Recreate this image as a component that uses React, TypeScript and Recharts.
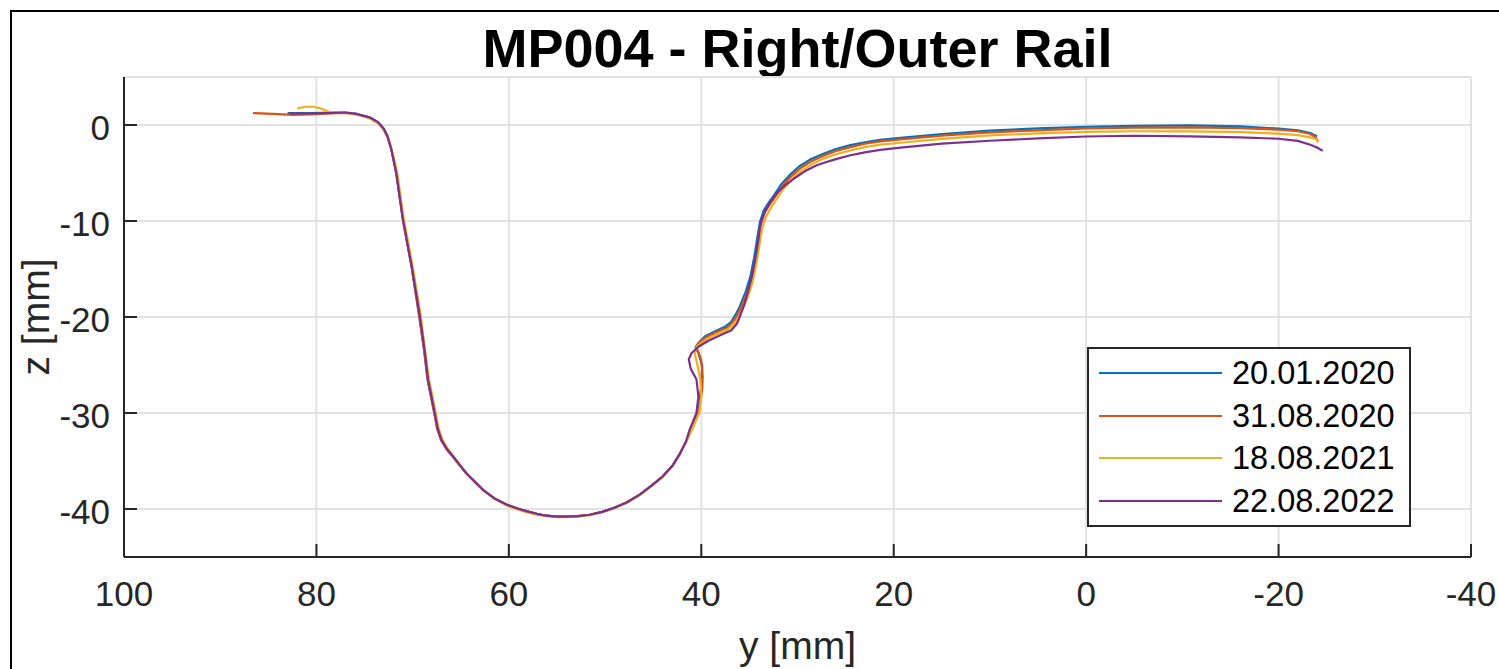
import React from 'react';
import { LineChart, Line, XAxis, YAxis, CartesianGrid, Legend, Label } from 'recharts';

// profile measurements, [y (mm), z (mm)]
const yTicks = [100, 80, 60, 40, 20, 0, -20, -40];
const zTicks = [0, -10, -20, -30, -40];
const dates = ['20.01.2020', '31.08.2020', '18.08.2021', '22.08.2022'];
const colors = ['#0072BD', '#D95319', '#EDB120', '#7E2F8E'];

const profile2020a: [number, number][] = [
  [83.0, 1.25], [80.5, 1.25], [78.5, 1.3], [77.0, 1.3], [75.8, 1.15], [74.5, 0.8], [73.6, 0.3],
  [73.0, -0.4], [72.6, -1.2], [72.2, -2.6], [71.7, -5.0], [71.0, -9.9], [70.1, -14.8], [69.3, -20.0],
  [68.8, -23.5], [68.45, -26.5], [67.75, -30.0], [67.45, -31.6], [67.05, -32.8], [66.45, -33.8],
  [65.85, -34.5], [65.15, -35.4], [64.4, -36.3], [63.5, -37.2], [62.7, -38.0], [61.5, -38.9],
  [60.2, -39.55], [59.1, -39.95], [58.1, -40.25], [57.1, -40.5], [56.1, -40.7], [55.0, -40.8],
  [54.0, -40.8], [52.8, -40.75], [51.6, -40.6], [50.3, -40.3], [49.1, -39.9], [47.7, -39.3],
  [46.4, -38.5], [45.2, -37.6], [44.0, -36.6], [43.0, -35.5], [42.2, -34.2], [41.5, -32.8],
  [41.0, -31.7], [40.3, -29.5], [40.0, -27.2], [39.9, -25.1], [40.3, -23.75], [40.6, -23.2],
  [40.3, -22.7], [39.6, -22.0], [38.6, -21.5], [37.5, -21.0], [36.9, -20.5], [36.4, -19.7],
  [36.0, -18.9], [35.4, -17.4], [34.9, -15.8], [34.5, -13.8], [34.2, -11.9], [33.9, -10.1],
  [33.5, -8.9], [33.0, -8.1], [32.5, -7.4], [31.7, -6.2], [30.8, -5.2], [29.8, -4.3], [28.7, -3.6],
  [27.3, -3.0], [26.0, -2.5], [24.5, -2.1], [23.0, -1.8], [21.4, -1.55], [19.3, -1.35], [15, -0.95],
  [10, -0.59], [5, -0.35], [0, -0.2], [-5, -0.1], [-10.8, -0.03], [-16, -0.15], [-20, -0.38],
  [-22, -0.55], [-23.3, -0.84], [-24.0, -1.2],
];

const profile2020b: [number, number][] = [
  [86.6, 1.25], [84.5, 1.15], [82.5, 1.05], [80.5, 1.1], [78.5, 1.2], [77.0, 1.25], [75.8, 1.1],
  [74.5, 0.75], [73.6, 0.25], [73.0, -0.5], [72.5, -1.5], [72.1, -3.0], [71.7, -5.0], [71.0, -9.9],
  [70.1, -14.8], [69.3, -20.0], [68.8, -23.5], [68.45, -26.5], [67.75, -30.0], [67.45, -31.6],
  [67.05, -32.8], [66.45, -33.8], [65.85, -34.5], [65.15, -35.4], [64.4, -36.3], [63.5, -37.2],
  [62.7, -38.0], [61.5, -38.9], [60.2, -39.55], [59.1, -39.95], [58.1, -40.25], [57.1, -40.5],
  [56.1, -40.7], [55.0, -40.8], [54.0, -40.8], [52.8, -40.75], [51.6, -40.6], [50.3, -40.3],
  [49.1, -39.9], [47.7, -39.3], [46.4, -38.5], [45.2, -37.6], [44.0, -36.6], [43.0, -35.5],
  [42.2, -34.2], [41.5, -32.8], [41.0, -31.7], [40.2, -29.5], [39.9, -27.5], [39.85, -26.2],
  [40.0, -24.5], [40.4, -23.4], [40.5, -23.0], [40.0, -22.5], [39.3, -22.0], [38.3, -21.5],
  [37.3, -21.1], [36.8, -20.6], [36.3, -19.9], [35.9, -19.1], [35.3, -17.6], [34.8, -16.1],
  [34.4, -14.1], [34.1, -12.2], [33.8, -10.3], [33.4, -9.1], [32.9, -8.3], [32.4, -7.6],
  [31.6, -6.4], [30.7, -5.4], [29.7, -4.5], [28.6, -3.8], [27.3, -3.2], [26.0, -2.7], [24.5, -2.3],
  [23.0, -1.95], [21.4, -1.7], [19.3, -1.5], [15, -1.1], [10, -0.77], [5, -0.55], [0, -0.36],
  [-5, -0.28], [-10.8, -0.24], [-16, -0.33], [-20, -0.49], [-22, -0.65], [-23.3, -0.94],
  [-23.9, -1.3], [-24.1, -1.75],
];

const profile2021: [number, number][] = [
  [82.0, 1.7], [81.2, 1.9], [80.3, 1.9], [79.5, 1.7], [78.6, 1.35], [77.0, 1.25], [75.8, 1.1],
  [74.5, 0.7], [73.5, 0.1], [72.9, -0.6], [72.5, -1.5], [72.1, -2.8], [71.6, -5.0], [70.9, -9.9],
  [70.0, -14.7], [69.15, -19.9], [68.7, -23.5], [68.3, -26.5], [67.6, -30.0], [67.3, -31.6],
  [66.9, -32.8], [66.3, -33.8], [65.75, -34.55], [65.05, -35.45], [64.3, -36.4], [63.4, -37.3],
  [62.6, -38.1], [61.4, -39.0], [60.2, -39.65], [59.1, -40.05], [58.1, -40.35], [57.1, -40.6],
  [56.1, -40.75], [55.0, -40.85], [54.0, -40.85], [52.8, -40.8], [51.6, -40.65], [50.3, -40.35],
  [49.1, -39.95], [47.7, -39.35], [46.4, -38.55], [45.2, -37.65], [44.0, -36.65], [43.0, -35.55],
  [42.2, -34.25], [41.5, -32.9], [41.0, -31.8], [40.2, -30.0], [40.0, -28.3], [40.1, -26.5],
  [40.4, -25.0], [40.7, -23.7], [40.4, -23.0], [39.6, -22.4], [38.4, -21.8], [37.2, -21.3],
  [36.7, -20.8], [36.2, -20.2], [35.8, -19.4], [35.2, -18.0], [34.7, -16.5], [34.3, -14.6],
  [34.0, -12.8], [33.7, -10.9], [33.3, -9.6], [32.8, -8.7], [32.3, -7.9], [31.5, -6.7],
  [30.6, -5.7], [29.6, -4.8], [28.5, -4.1], [27.3, -3.5], [26.0, -3.05], [24.5, -2.65],
  [23.0, -2.3], [21.4, -2.05], [19.3, -1.85], [15, -1.45], [10, -1.08], [5, -0.88], [0, -0.72],
  [-5, -0.65], [-10.8, -0.66], [-16, -0.75], [-20, -0.9], [-22, -1.05], [-23.3, -1.29],
  [-24.0, -1.5], [-24.1, -1.8],
];

const profile2022: [number, number][] = [
  [82.8, 1.2], [80.5, 1.2], [78.5, 1.25], [77.0, 1.3], [75.8, 1.15], [74.5, 0.8], [73.6, 0.3],
  [73.0, -0.4], [72.6, -1.2], [72.2, -2.6], [71.7, -5.0], [71.0, -9.9], [70.1, -14.7], [69.25, -19.9],
  [68.75, -23.5], [68.4, -26.5], [67.7, -30.0], [67.4, -31.6], [67.0, -32.8], [66.4, -33.8],
  [65.8, -34.5], [65.1, -35.4], [64.4, -36.3], [63.5, -37.2], [62.7, -38.0], [61.5, -38.9],
  [60.2, -39.55], [59.1, -39.95], [58.1, -40.25], [57.1, -40.5], [56.1, -40.7], [55.0, -40.8],
  [54.0, -40.8], [52.8, -40.75], [51.6, -40.6], [50.3, -40.3], [49.1, -39.9], [47.7, -39.3],
  [46.4, -38.5], [45.2, -37.6], [44.0, -36.6], [43.0, -35.5], [42.2, -34.2], [41.6, -33.0],
  [41.2, -31.7], [40.5, -30.0], [40.3, -28.3], [40.5, -26.5], [41.1, -25.4], [41.3, -24.4],
  [41.0, -23.75], [40.3, -23.1], [39.3, -22.5], [37.7, -21.75], [36.9, -21.4], [36.3, -20.7],
  [35.97, -19.9], [35.5, -18.6], [35.1, -17.2], [34.7, -15.6], [34.4, -14.0], [34.1, -12.2],
  [33.9, -10.6], [33.6, -9.5], [33.1, -8.5], [32.6, -7.7], [32.15, -7.1], [31.3, -6.3],
  [30.4, -5.6], [29.2, -4.8], [28.0, -4.2], [27.0, -3.85], [26.0, -3.55], [24.5, -3.15],
  [23.0, -2.85], [21.4, -2.6], [19.3, -2.35], [15, -1.95], [10, -1.64], [5, -1.4], [0, -1.2],
  [-5, -1.12], [-10.8, -1.18], [-16, -1.28], [-20, -1.43], [-22, -1.65], [-23.3, -2.05],
  [-24.0, -2.35], [-24.6, -2.7],
];

const profiles = [profile2020a, profile2020b, profile2021, profile2022];

const series = dates.map((name, i) => ({
  name,
  color: colors[i],
  data: profiles[i].map(([y, z]) => ({ y, z })),
}));

const FONT = '"Liberation Sans", Arial, Helvetica, sans-serif';
const AXIS = '#262626';

const LegendBox = () => (
  <div
    style={{
      boxSizing: 'border-box',
      width: 324,
      height: 180,
      border: `2px solid ${AXIS}`,
      background: '#fff',
      position: 'relative',
      fontFamily: FONT,
    }}
  >
    {series.map((s, i) => (
      <div
        key={s.name}
        style={{
          position: 'absolute',
          left: 10,
          top: 3.3 + i * 42.45,
          height: 42,
          display: 'flex',
          alignItems: 'center',
        }}
      >
        <div style={{ width: 123, height: 2, background: s.color }} />
        <span style={{ marginLeft: 10, fontSize: 32.5, color: '#000', lineHeight: '42px' }}>{s.name}</span>
      </div>
    ))}
  </div>
);

export default function App() {
  return (
    <div style={{ position: 'absolute', left: 0, top: 0, width: 1499, height: 669, background: '#fff', overflow: 'hidden' }}>
      <div
        style={{
          position: 'absolute',
          left: 10,
          top: 10,
          width: 1600,
          height: 700,
          border: '2px solid #000',
          boxSizing: 'border-box',
        }}
      />
      <div
        style={{
          position: 'absolute',
          left: 124,
          width: 1347,
          top: 21,
          lineHeight: '54px',
          textAlign: 'center',
          fontFamily: FONT,
          fontWeight: 'bold',
          fontSize: 54,
          color: '#000',
        }}
      >
        MP004 - Right/Outer Rail
      </div>
      <LineChart width={1499} height={669} margin={{ top: 77, right: 28, bottom: 82, left: 64 }}>
        <CartesianGrid stroke="#e2e2e2" strokeWidth={2} />
        <XAxis
          dataKey="y"
          type="number"
          domain={[-40, 100]}
          ticks={yTicks}
          reversed
          allowDataOverflow
          height={30}
          tickSize={-13}
          tickMargin={37}
          axisLine={{ stroke: AXIS, strokeWidth: 2 }}
          tickLine={{ stroke: AXIS, strokeWidth: 2 }}
          tick={{ fontSize: 35, fill: AXIS, fontFamily: FONT }}
        >
          <Label
            content={({ viewBox }: any) => (
              <text
                x={viewBox.x + viewBox.width / 2}
                y={viewBox.y + 102}
                textAnchor="middle"
                fontSize={39}
                fontFamily={FONT}
                fill={AXIS}
              >
                y [mm]
              </text>
            )}
          />
        </XAxis>
        <YAxis
          dataKey="z"
          type="number"
          domain={[-45, 5]}
          ticks={zTicks}
          allowDataOverflow
          width={60}
          tickSize={-13}
          tickMargin={27}
          axisLine={{ stroke: AXIS, strokeWidth: 2 }}
          tickLine={{ stroke: AXIS, strokeWidth: 2 }}
          tick={{ fontSize: 35, fill: AXIS, fontFamily: FONT, dy: 3 }}
        >
          <Label
            content={({ viewBox }: any) => {
              const cx = viewBox.x - 29;
              const cy = viewBox.y + viewBox.height / 2;
              return (
                <text
                  x={cx}
                  y={cy}
                  transform={`rotate(-90 ${cx} ${cy})`}
                  textAnchor="middle"
                  dominantBaseline="central"
                  fontSize={39}
                  fontFamily={FONT}
                  fill={AXIS}
                >
                  z [mm]
                </text>
              );
            }}
          />
        </YAxis>
        {series.map((s) => (
          <Line
            key={s.name}
            data={s.data}
            dataKey="z"
            name={s.name}
            type="linear"
            stroke={s.color}
            strokeWidth={2.2}
            strokeLinejoin="round"
            dot={false}
            activeDot={false}
            isAnimationActive={false}
          />
        ))}
        <Legend
          layout="vertical"
          align="center"
          verticalAlign="middle"
          content={() => <LegendBox />}
          wrapperStyle={{ position: 'absolute', left: 1087, top: 347, width: 324, height: 180 }}
        />
      </LineChart>
    </div>
  );
}
